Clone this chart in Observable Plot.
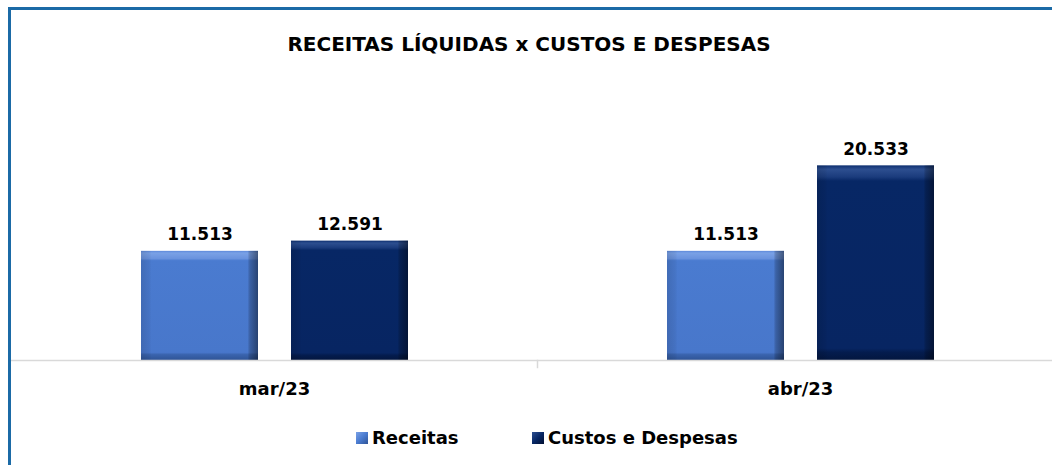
<!DOCTYPE html>
<html>
<head>
<meta charset="utf-8">
<script src="https://cdn.jsdelivr.net/npm/d3@7"></script>
<script src="https://cdn.jsdelivr.net/npm/@observablehq/plot@0.6"></script>
<style>
  html, body { margin: 0; padding: 0; background: #fff; overflow: hidden; }
  #wrap { position: relative; width: 1052px; height: 465px; overflow: hidden; font-family: "DejaVu Sans", sans-serif; }
  #frame { position: absolute; left: 8px; top: 7px; width: 1100px; height: 500px;
           border-top: 3px solid #1b6aa6; border-left: 3px solid #1b6aa6; box-sizing: border-box; }
  #title { position: absolute; left: 0; top: 32px; width: 1058px; text-align: center;
           font-weight: bold; font-size: 20px; color: #000; }
  #chart { position: absolute; left: 0; top: 80px; }
  #legend { position: absolute; left: 0; top: 427px; width: 1052px; height: 26px;
            font-weight: bold; font-size: 18px; color: #000; }
  .item { position: absolute; top: 0; display: flex; align-items: center; gap: 4px; white-space: nowrap; }
  .sw { width: 12px; height: 12px; display: inline-block; }
</style>
</head>
<body>
<div id="wrap">
  <div id="frame"></div>
  <div id="title"></div>
  <div id="chart"></div>
  <div id="legend"></div>
</div>
<script>
const titleText = "RECEITAS LÍQUIDAS x CUSTOS E DESPESAS";
const months = ["mar/23", "abr/23"];
const seriesNames = ["Receitas", "Custos e Despesas"];
const receitas = [11513, 11513];
const custos = [12591, 20533];

const data = [];
months.forEach((m, i) => {
  data.push({month: m, series: seriesNames[0], value: receitas[i]});
  data.push({month: m, series: seriesNames[1], value: custos[i]});
});

const loc = d3.formatLocale({decimal: ",", thousands: ".", grouping: [3], currency: ["R$", ""]});
const fmt = loc.format(",d");

document.getElementById("title").textContent = titleText;

const gradId = s => s === seriesNames[0] ? "url(#gR)" : "url(#gC)";

const plot = Plot.plot({
  width: 1063,
  height: 330,
  marginLeft: 11,
  marginRight: 0,
  marginTop: 43,
  marginBottom: 50,
  style: {fontFamily: "DejaVu Sans, sans-serif", background: "transparent", maxWidth: "none"},
  fx: {domain: months, padding: 0, label: null, axis: "bottom", tickSize: 0, tickPadding: 22},
  x: {domain: seriesNames, paddingInner: 0.22, paddingOuter: 0.863, axis: null},
  y: {domain: [0, 25000], axis: null},
  marks: [
    Plot.barY(data, {fx: "month", x: "series", y: "value", fill: d => gradId(d.series)}),
    Plot.barY(data, {fx: "month", x: "series", y: "value", fill: "url(#gH)"}),
    Plot.ruleY([0], {stroke: "#d9d9d9", strokeWidth: 1.5}),
    Plot.frame({anchor: "right", stroke: "#d9d9d9", strokeWidth: 1.5, insetTop: 237, insetBottom: -7}),
    Plot.text(data, {fx: "month", x: "series", y: "value", text: d => fmt(d.value),
      lineAnchor: "bottom", dy: -11, fontSize: 17, fontWeight: "bold", fill: "#000"})
  ]
});

const ns = "http://www.w3.org/2000/svg";
const defs = document.createElementNS(ns, "defs");
defs.innerHTML = `
  <linearGradient id="gR" x1="0" y1="0" x2="0" y2="1">
    <stop offset="0" stop-color="#5d89da"/>
    <stop offset="0.02" stop-color="#7aa1e6"/>
    <stop offset="0.07" stop-color="#6a93de"/>
    <stop offset="0.09" stop-color="#4a7bd0"/>
    <stop offset="0.93" stop-color="#4877cb"/>
    <stop offset="0.95" stop-color="#3a64ae"/>
    <stop offset="1" stop-color="#2f5496"/>
  </linearGradient>
  <linearGradient id="gC" x1="0" y1="0" x2="0" y2="1">
    <stop offset="0" stop-color="#0d2f70"/>
    <stop offset="0.02" stop-color="#2d4f90"/>
    <stop offset="0.06" stop-color="#1a3b7c"/>
    <stop offset="0.08" stop-color="#072765"/>
    <stop offset="0.94" stop-color="#072562"/>
    <stop offset="0.96" stop-color="#041c4e"/>
    <stop offset="1" stop-color="#03163f"/>
  </linearGradient>
  <linearGradient id="gH" x1="0" y1="0" x2="1" y2="0">
    <stop offset="0" stop-color="#000" stop-opacity="0.12"/>
    <stop offset="0.07" stop-color="#000" stop-opacity="0.05"/>
    <stop offset="0.09" stop-color="#000" stop-opacity="0"/>
    <stop offset="0.91" stop-color="#000" stop-opacity="0"/>
    <stop offset="0.93" stop-color="#000" stop-opacity="0.2"/>
    <stop offset="1" stop-color="#000" stop-opacity="0.45"/>
  </linearGradient>`;
plot.insertBefore(defs, plot.firstChild);
plot.querySelectorAll("g[aria-label='fx-axis tick label']").forEach(el => {
  el.setAttribute("font-size", 18);
  el.setAttribute("font-weight", "bold");
  el.setAttribute("fill", "#000");
});
document.getElementById("chart").appendChild(plot);

const legend = document.getElementById("legend");
const legendLeft = [356, 532];
seriesNames.forEach((s, i) => {
  const it = document.createElement("div");
  it.className = "item";
  it.style.left = legendLeft[i] + "px";
  const sw = document.createElement("span");
  sw.className = "sw";
  sw.style.background = i === 0
    ? "linear-gradient(135deg, #7aa1e6 0%, #4a7bd0 50%, #2f5496 100%)"
    : "linear-gradient(135deg, #2d4f90 0%, #072765 50%, #020f30 100%)";
  const t = document.createElement("span");
  t.textContent = s;
  it.appendChild(sw); it.appendChild(t);
  legend.appendChild(it);
});
</script>
</body>
</html>
